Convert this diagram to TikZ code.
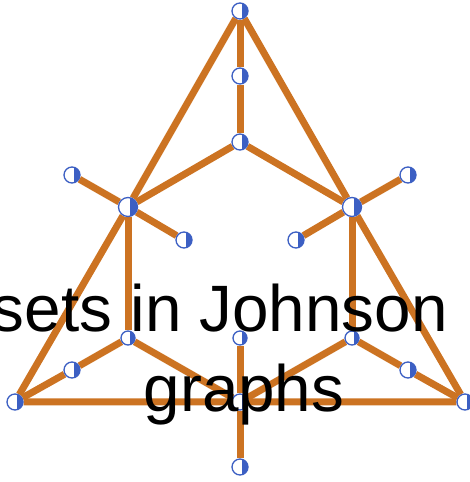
\documentclass[tikz,border=0pt]{standalone}
\usepackage{fontspec}
\setmainfont{Liberation Sans}
\usepackage{tikz}
\usetikzlibrary{positioning, backgrounds}

\definecolor{edgeorange}{RGB}{204,115,34}
\definecolor{vertblue}{RGB}{60,95,195}

\begin{document}
\begin{tikzpicture}[
  x=1pt, y=1pt,
  vertex/.style={circle, draw=vertblue, line width=1.3pt, fill=white, inner sep=0pt, minimum size=16pt,
    path picture={\fill[vertblue] ([xshift=2pt]path picture bounding box.north) rectangle (path picture bounding box.south east);}},
  hub/.style={vertex, minimum size=19pt},
  small/.style={vertex, minimum size=14pt},
  edge/.style={draw=edgeorange, line width=7pt},
  title/.style={font=\fontsize{65.6}{80}\selectfont, inner sep=0pt}
]
\useasboundingbox (0,0) rectangle (470,482);

\node[vertex] (top) at (240,471) {};
\node[vertex] (upper) at (240,406) {};
\node[vertex] (centre) at (240,340) {};
\node[hub] (hubL) at (128,275) {};
\node[hub] (hubR) at (352,275) {};
\node[vertex] (leafLa) at (72,307) {};
\node[vertex] (leafLb) at (184,242) {};
\node[vertex] (leafRa) at (408,307) {};
\node[vertex] (leafRb) at (296,242) {};
\node[small] (innerL) at (128,144) {};
\node[small] (innerM) at (240,144) {};
\node[small] (innerR) at (352,144) {};
\node[vertex] (footL) at (72,112) {};
\node[vertex] (footR) at (408,112) {};
\node[vertex] (cornerL) at (15,80) {};
\node[vertex] (cornerR) at (465,80) {};
\node[vertex] (bottom) at (240,80) {};
\node[vertex] (tail) at (240,15) {};

\begin{scope}[on background layer]
\draw[edge] (top) -- (hubL) -- (cornerL) -- (bottom) -- (cornerR) -- (hubR) -- (top);
\draw[edge] (top) -- (upper) -- (centre);
\draw[edge] (centre) -- (hubL);
\draw[edge] (centre) -- (hubR);
\draw[edge] (hubL) -- (leafLa);
\draw[edge] (hubL) -- (leafLb);
\draw[edge] (hubR) -- (leafRa);
\draw[edge] (hubR) -- (leafRb);
\draw[edge] (hubL) -- (innerL);
\draw[edge] (hubR) -- (innerR);
\draw[edge] (innerL) -- (footL) -- (cornerL);
\draw[edge] (innerR) -- (footR) -- (cornerR);
\draw[edge] (innerL) -- (bottom);
\draw[edge] (innerR) -- (bottom);
\draw[edge] (innerM) -- (bottom) -- (tail);
\end{scope}

\node[title, anchor=base east] (line1) at (448,150) {sets in Johnson};
\node[title, anchor=base] (line2) at (244,70) {graphs};

\end{tikzpicture}
\end{document}
